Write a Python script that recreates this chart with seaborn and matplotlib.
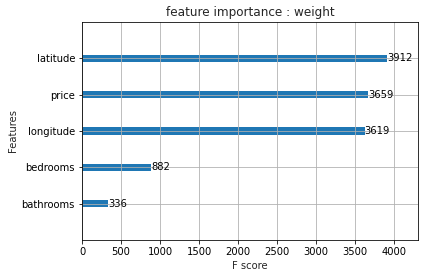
import matplotlib
matplotlib.use("Agg")
import matplotlib.pyplot as plt
import seaborn as sns
import pandas as pd

features = ["latitude", "price", "longitude", "bedrooms", "bathrooms"]
scores = [3912, 3659, 3619, 882, 336]
xticks = [0, 500, 1000, 1500, 2000, 2500, 3000, 3500, 4000]

sns.set_style("ticks")
plt.rcParams["font.family"] = ["DejaVu Sans"]
plt.rcParams["font.size"] = 10

df = pd.DataFrame({"feature": features, "score": scores})

fig = plt.figure(figsize=(423 / 72, 278 / 72), dpi=72)
ax = fig.add_axes([82 / 423, 1 - 240 / 278, (418 - 82) / 423, (240 - 22) / 278])

sns.barplot(data=df, x="score", y="feature", order=features, color="#1f77b4",
            saturation=1, width=0.2, orient="h", ax=ax, linewidth=0)

for i, v in enumerate(scores):
    ax.text(v + 1, i, str(v), va="center", fontsize=10, color="black", zorder=3)

ax.set_xlim(0, max(scores) * 1.1)
ax.set_ylim(5, -1)
ax.set_xticks(xticks)
ax.grid(True, color="#b0b0b0", linewidth=0.8)
ax.set_axisbelow("line")
for s in ax.spines.values():
    s.set_color("black")
    s.set_linewidth(0.8)
ax.tick_params(axis="both", colors="black", length=3.5, width=0.8, labelsize=10)
ax.set_title("feature importance : weight", fontsize=12)
ax.set_xlabel("F score", fontsize=10)
ax.set_ylabel("Features", fontsize=10)

fig.savefig("out.png", dpi=72)
